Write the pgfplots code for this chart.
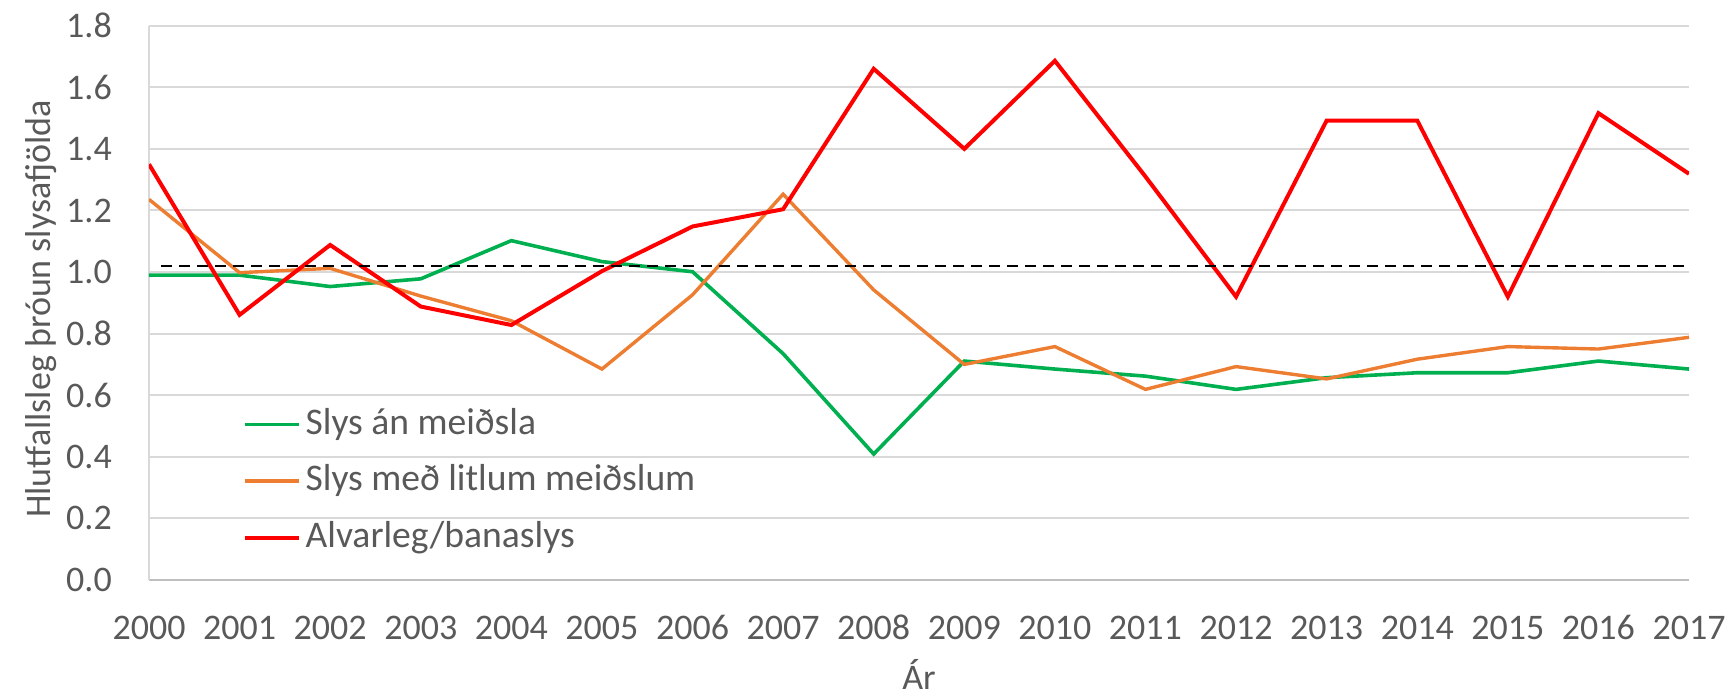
\documentclass[border=0pt]{standalone}
\usepackage{fontspec}
\setmainfont{Carlito}
\usepackage{pgfplots}
\pgfplotsset{compat=1.18}
\definecolor{cgreen}{HTML}{00B050}
\definecolor{corange}{HTML}{ED7D31}
\definecolor{cred}{HTML}{FF0000}
\definecolor{ctext}{HTML}{595959}
\definecolor{cgrid}{HTML}{D9D9D9}
\definecolor{caxis}{HTML}{BFBFBF}
\newcommand{\ff}{\fontsize{18bp}{21.6bp}\selectfont}
\newcommand{\lf}{\fontsize{18.8bp}{22.5bp}\selectfont}
\begin{document}
\begin{tikzpicture}
\path[use as bounding box] (-74.5bp,-59bp) rectangle (792.5bp,290bp);
\begin{axis}[
  at={(0,0)}, anchor=south west,
  scale only axis, width=770bp, height=277.15bp,
  xmin=2000, xmax=2017, ymin=0, ymax=1.8,
  enlargelimits=false,
  xtick={2000,2001,...,2017},
  ytick={0,0.2,...,1.8},
  axis x line*=bottom, axis y line*=left,
  x axis line style={draw=caxis, line width=1bp, -},
  y axis line style={draw=cgrid, line width=1bp, -},
  major tick length=0pt,
  ymajorgrids, grid style={draw=cgrid, line width=1bp},
  /pgf/number format/assume math mode=true,
  ticklabel style={font=\ff, text=ctext},
  yticklabel style={anchor=east, inner sep=0pt, xshift=-18.4bp,
     /pgf/number format/fixed, /pgf/number format/fixed zerofill, /pgf/number format/precision=1},
  xticklabel style={anchor=base, inner sep=0pt, yshift=-29.5bp,
     /pgf/number format/set thousands separator={}},
  every axis x label/.style={at={(axis description cs:0.5,0)}, anchor=base, inner sep=0pt, yshift=-54.8bp, font=\ff, text=ctext},
  every axis y label/.style={at={(axis description cs:-0.0639,0.489)}, rotate=90, anchor=base, font=\ff, text=ctext},
  xlabel={Ár},
  ylabel={Hlutfallsleg þróun slysafjölda},
  legend cell align=left,
  legend image code/.code={\draw[#1] (0bp,0bp) -- (27bp,0bp);},
  legend style={at={(axis description cs:0.0608,0.3110)}, anchor=north west,
     draw=none, fill=none, inner sep=0pt, outer sep=0pt,
     row sep=11.55bp, column sep=2.5bp, font=\lf, text=ctext,
     nodes={inner sep=0pt, text height=13.2bp, text depth=3.6bp}},
]
\addplot[cgreen, line width=1.8bp] coordinates {
(2000,0.990) (2001,0.990) (2002,0.953) (2003,0.978) (2004,1.102) (2005,1.034)
(2006,1.001) (2007,0.735) (2008,0.409) (2009,0.711) (2010,0.685) (2011,0.662)
(2012,0.619) (2013,0.657) (2014,0.673) (2015,0.673) (2016,0.711) (2017,0.685)};
\addlegendentry{Slys án meiðsla}
\addplot[corange, line width=1.7bp] coordinates {
(2000,1.236) (2001,0.998) (2002,1.012) (2003,0.922) (2004,0.842) (2005,0.685)
(2006,0.926) (2007,1.253) (2008,0.942) (2009,0.700) (2010,0.758) (2011,0.619)
(2012,0.693) (2013,0.653) (2014,0.717) (2015,0.758) (2016,0.750) (2017,0.788)};
\addlegendentry{Slys með litlum meiðslum}
\addplot[cred, line width=2bp] coordinates {
(2000,1.350) (2001,0.861) (2002,1.088) (2003,0.888) (2004,0.828) (2005,1.003)
(2006,1.148) (2007,1.204) (2008,1.660) (2009,1.400) (2010,1.686) (2011,1.310)
(2012,0.920) (2013,1.492) (2014,1.492) (2015,0.920) (2016,1.516) (2017,1.319)};
\addlegendentry{Alvarleg/banaslys}
\addplot[black, line width=1.3bp, dash pattern=on 5.5bp off 3.5bp, forget plot] coordinates {
(2000.13,1.02) (2017,1.02)};
\end{axis}
\end{tikzpicture}
\end{document}
